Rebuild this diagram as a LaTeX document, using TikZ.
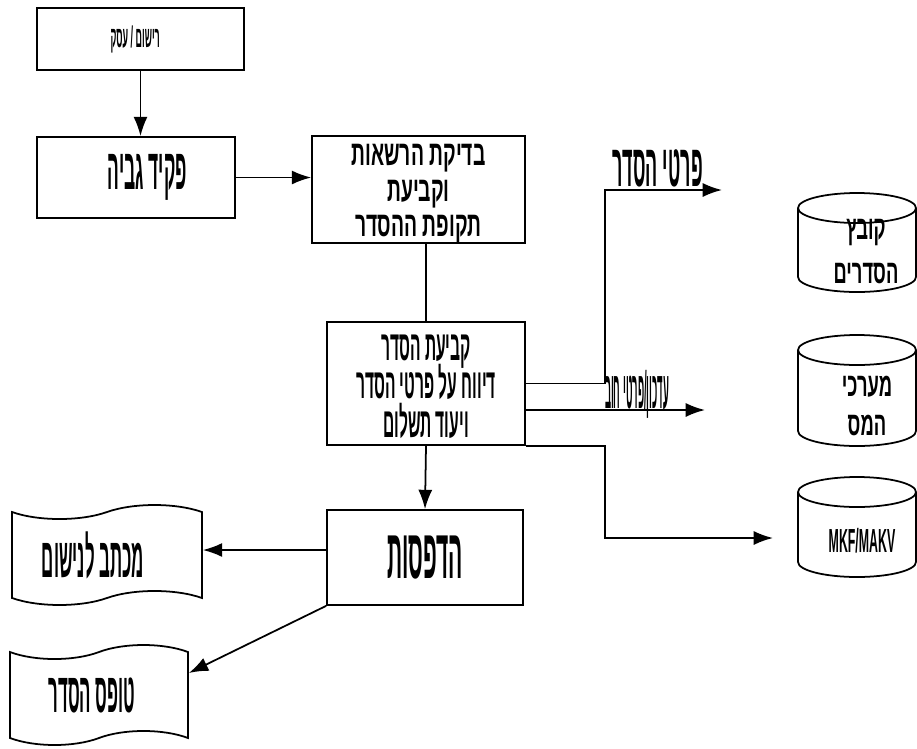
\documentclass[tikz,border=0pt]{standalone}
\usepackage{fontspec}
\newfontfamily\hebfont[Script=Hebrew,FakeStretch=0.55,UprightFont=* Bold]{Liberation Sans}
\newfontfamily\hebmid[Script=Hebrew,FakeStretch=0.4,UprightFont=* Bold]{Liberation Sans}
\newfontfamily\hebdeal[Script=Hebrew,FakeStretch=0.37,UprightFont=* Bold]{Liberation Sans}
\newfontfamily\hebnarrow[Script=Hebrew,FakeStretch=0.3,UprightFont=* Bold]{Liberation Sans}
\newfontfamily\hebtight[Script=Hebrew,FakeStretch=0.18,UprightFont=* Bold]{Liberation Sans}
\TeXXeTstate=1
\usetikzlibrary{arrows.meta,shapes.symbols}
\newcommand{\heb}[1]{\beginR #1\endR}
\newcommand{\fixlines}{\setlength{\lineskiplimit}{-60pt}}
% drum: x, y of top centre, y of bottom centre
\newcommand{\drum}[3]{%
  \draw[line width=1pt] (#1,#2) ellipse [x radius=1.18cm, y radius=0.3cm];
  \draw[line width=1pt] ([xshift=-1.18cm]#1,#2) -- ([xshift=-1.18cm]#1,#3)
    arc[start angle=180, end angle=360, x radius=1.18cm, y radius=0.3cm] -- ([xshift=1.18cm]#1,#2);}
\tikzset{
  box/.style={draw, line width=1pt, inner sep=0pt, align=center},
  doc/.style={tape, draw, line width=1pt, tape bend height=0.28cm, inner sep=0pt},
  arr/.style={line width=1pt, -{Latex[length=11pt,width=8pt]}},
  bigtxt/.style={font={\hebnarrow\fontsize{32}{20}\selectfont}},
  drumtxt/.style={font={\hebfont\fontsize{19}{25}\selectfont\fixlines}, align=center, inner sep=0pt},
  smalltxt/.style={font={\hebnarrow\fontsize{17}{18}\selectfont}},
  tighttxt/.style={font={\hebtight\fontsize{30}{30}\selectfont}}
}
\begin{document}
\begin{tikzpicture}[x=0.02cm,y=-0.02cm]
  \useasboundingbox (0,0) rectangle (917,748);
  %boxes
  \node[box, smalltxt, minimum width=4.14cm, minimum height=1.24cm] (reg) at (140.5,39) {\heb{רישום / עסק}\kern6pt};
  \node[box, font={\hebnarrow\fontsize{33}{20}\selectfont}, minimum width=3.96cm, minimum height=1.62cm] (clerk) at (136,177.5) {\hspace{13pt}\heb{פקיד גביה}};
  \node[box, font={\hebfont\fontsize{20}{20}\selectfont\fixlines}, minimum width=4.26cm, minimum height=2.1cm] (check) at (418.5,189.5)
    {\heb{\rule{0pt}{17pt}בדיקת הרשאות}\\\heb{וקביעת}\\\heb{תקופת ההסדר}};
  \node[box, font={\hebdeal\fontsize{24}{22}\selectfont\fixlines}, minimum width=3.96cm, minimum height=2.46cm] (deal) at (426,383.5)
    {\heb{\rule{0pt}{18pt}קביעת הסדר}\\\heb{דיווח על פרטי הסדר}\\\heb{ויעוד תשלום}};
  \node[box, font={\hebnarrow\fontsize{40}{20}\selectfont}, minimum width=3.92cm, minimum height=1.9cm] (print) at (425,557.5) {\heb{הדפסות}};
  %documents
  \node[doc, bigtxt, minimum width=3.8cm, minimum height=2cm] (letter) at (107,555) {\heb{מכתב לנישום}\kern16pt};
  \node[doc, bigtxt, minimum width=3.56cm, minimum height=2cm] (form) at (99,695) {\heb{טופס הסדר}\kern8pt};
  %stores
  \drum{857}{208}{277}
  \drum{857}{350}{431}
  \drum{857}{492}{562}
  \node[drumtxt] (dealsTxt) at (866,252) {\heb{קובץ}\\\heb{הסדרים}};
  \node[drumtxt, font={\hebfont\fontsize{19}{22.7}\selectfont\fixlines}] (taxTxt) at (867,406) {\heb{מערכי}\\\heb{המס}};
  \node[font={\hebdeal\fontsize{19}{19}\selectfont}, inner sep=0pt] (mkfTxt) at (862,541) {MKF/MAKV};
  %free ends
  \coordinate (bendA) at (605,190);
  \coordinate (tipA) at (722,190);
  \coordinate (tipB) at (705,410);
  \coordinate (bendC) at (605,538);
  \coordinate (tipC) at (773,538);
  %connectors
  \draw[arr] (reg.south) -- (reg.south |- clerk.north);
  \draw[arr] (clerk.east) -- (clerk.east -| check.west);
  \draw[line width=1pt] (deal.north |- check.south) -- (deal.north);
  \draw[arr] (deal.south) -- (print.north);
  \draw[arr] (deal.east) -| (bendA) -- node[font={\hebnarrow\fontsize{34}{20}\selectfont}, above, pos=0.45, inner sep=1pt] (lblA) {\heb{פרטי הסדר}} (tipA);
  \draw[arr] (deal.east |- tipB) -- (tipB);
  \node[tighttxt, inner sep=0pt] (lblB) at (637,394) {\heb{עדכון/פרטי חוב}};
  \draw[arr] (deal.south east) -| (bendC) -- (tipC);
  \draw[arr] (print.west |- 0,550) -- (letter.east |- 0,550);
  \draw[arr] (print.south west) -- ([yshift=0.44cm]form.east);
\end{tikzpicture}
\end{document}
